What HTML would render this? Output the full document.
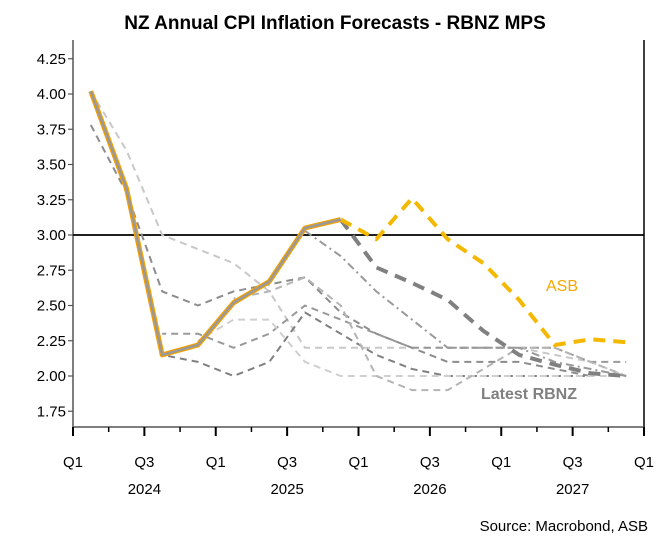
<!DOCTYPE html>
<html><head><meta charset="utf-8">
<style>
html,body{margin:0;padding:0;background:#fff;}
body{width:663px;height:549px;overflow:hidden;font-family:"Liberation Sans",sans-serif;}
</style></head>
<body>
<svg id="chart" width="663" height="549" xmlns="http://www.w3.org/2000/svg" font-family="Liberation Sans, sans-serif">
<text x="335" y="29" text-anchor="middle" font-size="19" font-weight="bold" fill="#000">NZ Annual CPI Inflation Forecasts - RBNZ MPS</text>
<g id="grid"></g>
<g id="series"></g>
<text x="648" y="531" text-anchor="end" font-size="15" fill="#000">Source: Macrobond, ASB</text>
</svg>
<script>
const yTicks=[1.75,2.00,2.25,2.50,2.75,3.00,3.25,3.50,3.75,4.00,4.25];
const xTickLabels=["Q1","Q3","Q1","Q3","Q1","Q3","Q1","Q3","Q1"];
const years=["2024","2025","2026","2027"];
const history=[4.02,3.33,2.15,2.22,2.52,2.67,3.05,3.11,null,null,null,null,null,null,null,null];
const asb=[null,null,null,null,null,null,null,3.11,2.97,3.26,2.97,2.80,2.54,2.22,2.26,2.24];
const latestRbnz=[null,null,null,null,null,null,null,3.11,2.77,2.66,2.54,2.32,2.15,2.08,2.02,2.00];
const mps1=[4.02,3.6,3.0,2.9,2.8,2.6,2.2,2.2,2.2,2.2,2.2,2.2,2.2,2.15,2.1,2.0];
const mps2=[3.78,3.3,2.6,2.5,2.6,2.65,2.7,2.45,2.3,2.2,2.1,2.1,2.1,2.05,2.0,null];
const mps3=[null,null,2.3,2.3,2.2,2.3,2.5,2.4,2.3,2.2,2.2,2.2,2.2,2.2,2.1,2.1];
const mps4=[null,null,2.15,2.1,2.0,2.1,2.45,2.3,2.15,2.05,2.0,2.0,2.0,2.0,2.0,null];
const mps5=[null,null,null,2.25,2.4,2.4,2.1,2.0,2.0,2.0,2.0,2.0,2.0,2.0,2.0,2.0];
const mps6=[null,null,null,null,2.55,2.6,2.7,2.5,2.0,1.9,1.9,2.05,2.2,2.2,2.1,2.0];
const mps7=[null,null,null,null,null,null,3.03,2.85,2.6,2.4,2.2,2.2,2.2,2.1,2.05,2.0];

const NS="http://www.w3.org/2000/svg";
const X0=73,X1=644,Q=(X1-X0)/16,T=40,B=427;
const xPos=i=>X0+(i+0.5)*Q;
const yPos=v=>235-(v-3)*141;
const grid=document.getElementById('grid'),ser=document.getElementById('series');
function mk(tag,at,parent){const e=document.createElementNS(NS,tag);for(const k in at)e.setAttribute(k,at[k]);parent.appendChild(e);return e;}
let e=mk('line',{x1:X0,y1:T,x2:X0,y2:B,stroke:'#555','stroke-width':1.5},grid);


e=mk('line',{x1:X1,y1:T,x2:X1,y2:B,stroke:'#000','stroke-width':1.5},grid);


e=mk('line',{x1:X0,y1:B,x2:X1,y2:B,stroke:'#555','stroke-width':1.5},grid);


yTicks.forEach(v=>{
  const y=yPos(v);
  let t=mk('line',{x1:X0-5,y1:y,x2:X0,y2:y,stroke:'#555','stroke-width':1.2},grid);
  
  
  let l=mk('text',{x:X0-7,y:y+5,'text-anchor':'end','font-size':15,fill:'#000'},grid);
  l.textContent=v.toFixed(2);
  
  
});
for(let q=0;q<=16;q++){
  const x=X0+q*Q;const major=q%2===0;
  let t=mk('line',{x1:x,y1:B,x2:x,y2:B+(major?9:5),stroke:'#000','stroke-width':major?2:1.5},grid);
  
  
}
xTickLabels.forEach((s,i)=>{
  let l=mk('text',{x:X0+i*2*Q,y:467,'text-anchor':'middle','font-size':15,fill:'#000'},grid);
  l.textContent=s;
  
  
});
years.forEach((s,i)=>{
  let l=mk('text',{x:X0+(i*4+2)*Q,y:494,'text-anchor':'middle','font-size':15,fill:'#000'},grid);
  l.textContent=s;
  
  
});
e=mk('line',{x1:X0,y1:yPos(3),x2:X1,y2:yPos(3),stroke:'#000','stroke-width':1.8},grid);


function path(data){let d='',pen=false;data.forEach((v,i)=>{if(v==null){pen=false;return;}d+=(pen?'L':'M')+xPos(i).toFixed(1)+','+yPos(v).toFixed(1)+' ';pen=true;});return d;}
function line(data,st,name){
  const p=mk('path',Object.assign({d:path(data),fill:'none','stroke-linejoin':'round'},st),ser);
  
  
}
line(mps1,{stroke:'#c8c8c8','stroke-width':2,'stroke-dasharray':'7,5'},'mps-series-1');
line(mps2,{stroke:'#8c8c8c','stroke-width':2,'stroke-dasharray':'7,5'},'mps-series-2');
line(mps3,{stroke:'#999','stroke-width':2,'stroke-dasharray':'7,5','stroke-dashoffset':3},'mps-series-3');
line(mps4,{stroke:'#808080','stroke-width':2,'stroke-dasharray':'7,5','stroke-dashoffset':6},'mps-series-4');
line(mps5,{stroke:'#cfcfcf','stroke-width':2,'stroke-dasharray':'7,5','stroke-dashoffset':2},'mps-series-5');
line(mps6,{stroke:'#b4b4b4','stroke-width':2,'stroke-dasharray':'7,5','stroke-dashoffset':5},'mps-series-6');
line(mps7,{stroke:'#999','stroke-width':2,'stroke-dasharray':'8,4,2,4'},'mps-series-7');
line(latestRbnz,{stroke:'#808080','stroke-width':4,'stroke-dasharray':'12,8'},'latest-rbnz-line');
line(asb,{stroke:'#f5b800','stroke-width':4,'stroke-dasharray':'12,8'},'asb-forecast-line');
line(history,{stroke:'#f5a000','stroke-width':5},'history-line-orange');
line(history,{stroke:'#999','stroke-width':2.5},'history-line-gray');
</script>
<svg style="position:absolute;left:0;top:0" width="663" height="549" xmlns="http://www.w3.org/2000/svg">
<text x="546" y="291" font-size="16" fill="#f5a800" font-family="Liberation Sans, sans-serif">ASB</text>
<text x="481" y="399" font-size="16" font-weight="bold" fill="#808080" font-family="Liberation Sans, sans-serif">Latest RBNZ</text>
</svg>
</body></html>
